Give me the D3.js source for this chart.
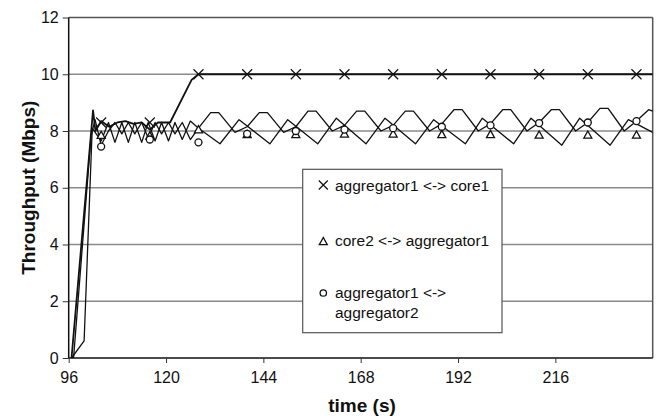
<!DOCTYPE html>
<html><head><meta charset="utf-8">
<script src="https://cdn.jsdelivr.net/npm/d3@7"></script>
<style>body{margin:0;background:#fff} text{font-family:"Liberation Sans",Arial,sans-serif;fill:#111}</style>
</head><body><svg id="c" width="657" height="416"></svg>
<script>
// ---- data ----
const xTicks = [96, 120, 144, 168, 192, 216];
const yTicks = [0, 2, 4, 6, 8, 10, 12];
const seriesNames = ["aggregator1 <-> core1", "core2 <-> aggregator1", "aggregator1 <-> aggregator2"];
const legendLines = [["aggregator1 <-> core1"], ["core2 <-> aggregator1"], ["aggregator1 <->", "aggregator2"]];

// line traces (time s, throughput Mbps)
const core1T = [96.7, 102, 102.6, 104, 106, 108, 110, 112, 114, 116, 118, 120, 121, 126.3, 128, 140, 152, 164, 176, 188, 200, 212, 224, 236, 240];
const core1V = [0, 8.73, 8.0, 8.35, 8.15, 8.3, 8.35, 8.25, 8.3, 8.05, 8.3, 8.3, 8.3, 9.8, 10, 10, 10, 10, 10, 10, 10, 10, 10, 10, 10];

const core2T = [96.7, 99.8, 101.8, 104, 105.8, 107.4, 109.1, 110.7, 112.3, 114, 115.6, 117.3, 118.9, 120.6, 122.2, 124, 126, 128, 133.3, 138, 145.6, 150, 157.4, 162, 169.3, 174, 181.5, 186, 193.8, 198, 205.7, 210, 217.6, 222, 229.5, 234, 240];
const core2V = [0, 0.6, 8.1, 7.65, 8.3, 7.6, 8.3, 7.6, 8.3, 7.6, 8.3, 7.65, 8.3, 7.65, 8.3, 7.7, 8.35, 8.1, 7.55, 8.4, 7.55, 8.4, 7.55, 8.45, 7.55, 8.45, 7.55, 8.4, 7.55, 8.45, 7.55, 8.45, 7.5, 8.45, 7.5, 8.4, 7.95];

const agg2T = [97.2, 101.5, 102.5, 104, 105.8, 107.4, 109.1, 110.7, 112.3, 114, 115.6, 117.3, 118.9, 120.6, 122.2, 124, 126, 128, 131, 133, 137, 140, 143, 145, 149, 152, 155, 157, 161, 164, 167, 169, 173, 176, 179, 181, 185, 188, 191, 193, 197, 200, 203, 205, 209, 212, 215, 217, 221, 224, 227, 229, 233, 236, 239, 240];
const agg2V = [0, 7.8, 8.4, 7.5, 8.0, 8.3, 7.9, 8.3, 7.9, 8.3, 7.75, 8.3, 7.9, 8.3, 7.9, 8.3, 7.7, 8.1, 8.65, 8.65, 7.95, 8.15, 8.65, 8.65, 7.95, 8.15, 8.7, 8.7, 8.0, 8.2, 8.7, 8.7, 8.0, 8.2, 8.7, 8.7, 8.0, 8.25, 8.75, 8.75, 8.0, 8.25, 8.75, 8.75, 8.0, 8.3, 8.75, 8.75, 8.0, 8.3, 8.8, 8.8, 8.0, 8.35, 8.75, 8.7];

// marker samples
const markerTimes = [104, 116, 128, 140, 152, 164, 176, 188, 200, 212, 224, 236];
const markCore1 = [8.3, 8.3, 10, 10, 10, 10, 10, 10, 10, 10, 10, 10];
const markCore2 = [7.85, 7.83, 8.05, 7.88, 7.88, 7.9, 7.9, 7.88, 7.88, 7.86, 7.86, 7.86];
const markAgg2 = [7.45, 7.7, 7.6, 7.9, 8.0, 8.05, 8.1, 8.15, 8.2, 8.28, 8.3, 8.35];

// ---- drawing ----
const svg = d3.select("#c");
const L = 68.7, R = 652.7, T = 17.5, B = 358;
const x = d3.scaleLinear().domain([96, 240]).range([L, R]);
const y = d3.scaleLinear().domain([0, 12]).range([B, T]);

// gridlines
svg.append("g").selectAll("line").data(yTicks.filter(v => v > 0)).join("line")
  .attr("x1", L).attr("x2", R).attr("y1", d => y(d)).attr("y2", d => y(d))
  .attr("stroke", d => d === 12 ? "#555" : "#8a8a8a").attr("stroke-width", d => d === 12 ? 1.5 : 1.3);
// right border
svg.append("line").attr("x1", R).attr("x2", R).attr("y1", T).attr("y2", B)
  .attr("stroke", "#555").attr("stroke-width", 1.5);

// axes
const yAxis = svg.append("g").attr("transform", `translate(${L},0)`)
  .call(d3.axisLeft(y).tickValues(yTicks).tickSize(6).tickPadding(4).tickFormat(d3.format("d")));
const xAxis = svg.append("g").attr("transform", `translate(0,${B})`)
  .call(d3.axisBottom(x).tickValues(xTicks).tickSize(5).tickPadding(9).tickFormat(d3.format("d")));
[yAxis, xAxis].forEach(a => {
  a.select(".domain").attr("stroke", "#111").attr("stroke-width", 1.5);
  a.selectAll(".tick line").attr("stroke", "#333");
  a.selectAll(".tick text").style("font-family", '"Liberation Sans",Arial,sans-serif').style("font-size", "16px").attr("fill", "#111");
});
xAxis.select(".domain").attr("d", `M${L},0H${R}`);
yAxis.select(".domain").attr("d", `M0,${B}V${T}`);

// lines
const line = d3.line().x(d => x(d[0])).y(d => y(d[1]));
const traces = [
  {t: core1T, v: core1V, w: 1.8},
  {t: core2T, v: core2V, w: 1.3},
  {t: agg2T, v: agg2V, w: 1.3}
];
traces.forEach(s => {
  svg.append("path").datum(s.t.map((t, i) => [t, s.v[i]]))
    .attr("d", line).attr("fill", "none").attr("stroke", "#111")
    .attr("stroke-width", s.w).attr("stroke-linejoin", "round");
});

// marker shapes
function cross(g, cx, cy, r) {
  g.append("path").attr("d", `M${cx - r},${cy - r}L${cx + r},${cy + r}M${cx - r},${cy + r}L${cx + r},${cy - r}`)
    .attr("stroke", "#111").attr("stroke-width", 1.2).attr("fill", "none");
}
function tri(g, cx, cy, r) {
  g.append("path").attr("d", `M${cx},${cy - r}L${cx + r},${cy + r * 0.8}L${cx - r},${cy + r * 0.8}Z`)
    .attr("stroke", "#111").attr("stroke-width", 1.3).attr("fill", "#fff");
}
function circ(g, cx, cy, r) {
  g.append("circle").attr("cx", cx).attr("cy", cy).attr("r", r)
    .attr("stroke", "#111").attr("stroke-width", 1.3).attr("fill", "#fff");
}
const mg = svg.append("g");
markerTimes.forEach((t, i) => {
  cross(mg, x(t), y(markCore1[i]), 5);
  tri(mg, x(t), y(markCore2[i]), 4);
  circ(mg, x(t), y(markAgg2[i]), 3.5);
});

// legend
const lg = svg.append("g");
lg.append("rect").attr("x", 302.7).attr("y", 169.3).attr("width", 199.3).attr("height", 163.4)
  .attr("fill", "#fff").attr("stroke", "#555").attr("stroke-width", 1.2);
const legY = [185, 240, 292];
const shapes = [cross, tri, circ];
legendLines.forEach((lines, i) => {
  shapes[i](lg, 323.3, legY[i] + (i === 1 ? 1.5 : i === 2 ? 1 : 0), i === 0 ? 4.5 : i === 1 ? 4 : 3.2);
  lines.forEach((txt, j) => {
    lg.append("text").attr("x", 335).attr("y", legY[i] + 5.5 + j * 20)
      .style("font-size", "15.5px").text(txt);
  });
});

// axis titles
svg.append("text").attr("x", 362).attr("y", 412).attr("text-anchor", "middle")
  .style("font-size", "19px").style("font-weight", "bold").text("time (s)");
svg.append("text").attr("transform", `translate(35,${(T + B) / 2}) rotate(-90)`).attr("text-anchor", "middle")
  .style("font-size", "19px").style("font-weight", "bold").text("Throughput (Mbps)");
</script></body></html>
